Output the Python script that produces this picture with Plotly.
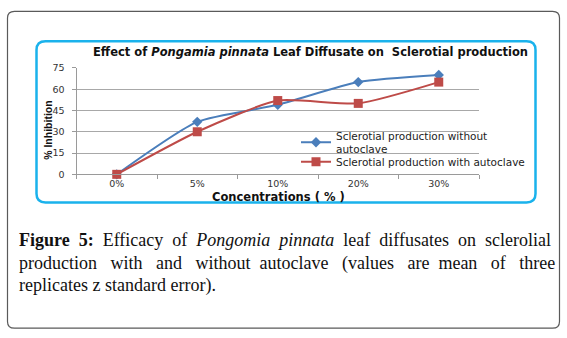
import plotly.graph_objects as go

W, H = 567, 338

categories = ["0%", "5%", "10%", "20%", "30%"]
without_autoclave = [0, 37, 49, 65, 70]
with_autoclave = [0, 30, 52, 50, 65]
y_ticks = [0, 15, 30, 45, 60, 75]

def px(x):
    return x / W

def py(y):
    return 1 - y / H

def rounded_rect(x0, y0, x1, y1, r):
    pts = [
        f"M {px(x0 + r)} {py(y0)}",
        f"L {px(x1 - r)} {py(y0)}",
        f"Q {px(x1)} {py(y0)} {px(x1)} {py(y0 + r)}",
        f"L {px(x1)} {py(y1 - r)}",
        f"Q {px(x1)} {py(y1)} {px(x1 - r)} {py(y1)}",
        f"L {px(x0 + r)} {py(y1)}",
        f"Q {px(x0)} {py(y1)} {px(x0)} {py(y1 - r)}",
        f"L {px(x0)} {py(y0 + r)}",
        f"Q {px(x0)} {py(y0)} {px(x0 + r)} {py(y0)}",
        "Z",
    ]
    return " ".join(pts)

NB = "\u00a0"

def justify(words, extra):
    out = words[0]
    for w, e in zip(words[1:], extra):
        out += " " + NB * e + w
    return out

line1_words = ["<b>Figure", "5:</b>", "Efficacy", "of", "<i>Pongomia", "pinnata</i>",
               "leaf", "diffusates", "on", "sclerolial"]
line2_words = ["production", "with", "and", "without", "autoclave", "(values",
               "are", "mean", "of", "three"]
line1 = justify(line1_words, [1] * 9)
line2 = justify(line2_words, [2, 2, 2, 1, 2, 2, 1, 2, 2])
line3 = "replicates z standard error)."

fig = go.Figure()
fig.add_trace(go.Scatter(
    x=categories, y=without_autoclave, mode="lines+markers",
    name="Sclerotial production without<br>autoclave",
    line=dict(color="#4A7EBB", width=2, shape="spline", smoothing=0.6),
    marker=dict(symbol="diamond", size=8, color="#4A7EBB"),
    cliponaxis=False, legend="legend",
))
fig.add_trace(go.Scatter(
    x=categories, y=with_autoclave, mode="lines+markers",
    name="Sclerotial production with autoclave",
    line=dict(color="#BE4B48", width=2, shape="spline", smoothing=0.6),
    marker=dict(symbol="square", size=9, color="#BE4B48"),
    cliponaxis=False, legend="legend2",
))

sans = "Liberation Sans, Arial, sans-serif"
wide = "DejaVu Sans, Verdana, sans-serif"
serif = "Liberation Serif, Times New Roman, serif"

legend_common = dict(
    xanchor="left", yanchor="top",
    bgcolor="rgba(0,0,0,0)",
    font=dict(family=wide, size=10.5, color="#222"),
    itemwidth=30, tracegroupgap=0,
)

fig.update_layout(
    width=W, height=H,
    margin=dict(l=0, r=0, t=0, b=0),
    paper_bgcolor="white", plot_bgcolor="white",
    showlegend=True,
    legend=dict(x=px(296), y=py(120), **legend_common),
    legend2=dict(x=px(296), y=py(146), **legend_common),
    xaxis=dict(
        domain=[px(76.5), px(479)],
        range=[-0.5, 4.5],
        type="category",
        showgrid=False,
        showline=True, linecolor="#9a9a9a", linewidth=1,
        ticks="outside", tickson="boundaries", ticklen=4, tickcolor="#9a9a9a",
        tickfont=dict(family=wide, size=9.5, color="#333"),
        ticklabelstandoff=0,
        zeroline=False,
    ),
    yaxis=dict(
        domain=[py(174), py(64)],
        range=[0, 75],
        tickvals=y_ticks,
        showgrid=True, gridcolor="#a8a8a8", gridwidth=1,
        showline=True, linecolor="#9a9a9a", linewidth=1,
        ticks="outside", ticklen=4, tickcolor="#9a9a9a",
        tickfont=dict(family=wide, size=9.5, color="#333"),
        ticklabelstandoff=5,
        zeroline=False,
    ),
    shapes=[
        dict(type="path", xref="paper", yref="paper",
             path=rounded_rect(7.5, 5.5, 559.5, 333, 7),
             line=dict(color="#5a5a5a", width=1.2), layer="below"),
        dict(type="path", xref="paper", yref="paper",
             path=rounded_rect(36.5, 36.5, 535.5, 203, 9),
             line=dict(color="#1AB2EC", width=2.5), layer="below"),
    ],
    annotations=[
        dict(text="Effect of <i>Pongamia pinnata</i> Leaf Diffusate on  Sclerotial production",
             x=px(310), y=py(48), xref="paper", yref="paper",
             xanchor="center", yanchor="middle", showarrow=False,
             font=dict(family=wide, size=11.5, color="#111", weight="bold")),
        dict(text="% Inhibition", textangle=-90,
             x=px(48), y=py(128), xref="paper", yref="paper",
             xanchor="center", yanchor="middle", showarrow=False,
             font=dict(family=sans, size=10.5, color="#111", weight="bold")),
        dict(text="Concentrations ( % )",
             x=px(278), y=py(197), xref="paper", yref="paper",
             xanchor="center", yanchor="middle", showarrow=False,
             font=dict(family=wide, size=11.5, color="#111", weight="bold")),
        dict(text=line1,
             x=px(17), y=py(242), xref="paper", yref="paper",
             xanchor="left", yanchor="middle", showarrow=False,
             font=dict(family=serif, size=18, color="#111")),
        dict(text=line2,
             x=px(17), y=py(266), xref="paper", yref="paper",
             xanchor="left", yanchor="middle", showarrow=False,
             font=dict(family=serif, size=18, color="#111")),
        dict(text=line3,
             x=px(17), y=py(289), xref="paper", yref="paper",
             xanchor="left", yanchor="middle", showarrow=False,
             font=dict(family=serif, size=18, color="#111")),
    ],
)

# Remove the default 8px body margin so the figure sits at the window's top-left corner.
fig.write_html("out.html", config={"displayModeBar": False},
               post_script="document.body.style.margin='0';")
